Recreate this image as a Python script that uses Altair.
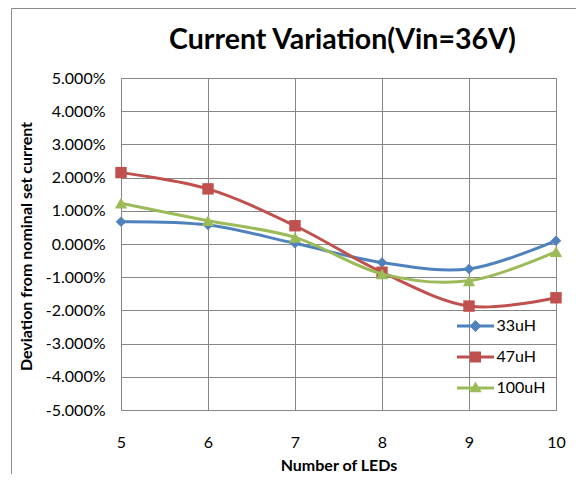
import altair as alt
import pandas as pd

# ---- data ----
leds = [5, 6, 7, 8, 9, 10]
series = ["33uH", "47uH", "100uH"]
dev_33 = [0.67, 0.57, 0.02, -0.56, -0.75, 0.10]
dev_47 = [2.15, 1.66, 0.55, -0.85, -1.87, -1.62]
dev_100 = [1.23, 0.70, 0.20, -0.90, -1.11, -0.23]
devs = [dev_33, dev_47, dev_100]
colors = ["#4F81BD", "#C0504D", "#9BBB59"]
shapes = ["diamond", "square", "triangle-up"]
sizes = [110, 130, 150]
y_ticks = list(range(-5, 6))
x_ticks = leds
TITLE = "Current Variation(Vin=36V)"
X_TITLE = "Number of LEDs"
Y_TITLE = "Deviation from nominal set current"

FONT = "Lato"
GRID = "#868686"

# legend symbols: line + marker, in unit space
bar = "M-1.85,-0.15H1.85V0.15H-1.85Z"
legend_paths = [
    bar + "M0,-0.6L0.6,0L0,0.6L-0.6,0Z",
    bar + "M-0.55,-0.55H0.55V0.55H-0.55Z",
    bar + "M0,-0.65L0.62,0.42H-0.62Z",
]

xscale = alt.Scale(domain=[5, 10], nice=False, zero=False)
yscale = alt.Scale(domain=[-5, 5], nice=False, zero=False)

xaxis = alt.Axis(
    values=x_ticks, grid=True, gridColor=GRID, gridOpacity=1, domain=False,
    ticks=False, tickSize=0, labelPadding=24, labelFontSize=16, labelFont=FONT,
    labelColor="black", title=X_TITLE, titleFont=FONT, titleFontSize=16,
    titleFontWeight="bold", titleColor="black", titleBaseline="alphabetic",
    titleY=60, labelFlush=False,
)
yaxis = alt.Axis(
    values=y_ticks, grid=True, gridColor=GRID, gridOpacity=1, domain=False,
    ticks=False, tickSize=0, labelPadding=16, labelFontSize=16, labelFont=FONT,
    labelColor="black",
    labelExpr="replace(format(datum.value, '.3f'), '\u2212', '-') + '%'",
    title=Y_TITLE, titleFont=FONT, titleFontSize=16, titleFontWeight="bold",
    titleColor="black", titleX=-95, titleY=168, titleBaseline="middle",
    titleAngle=270, titleAlign="center",
)

layers = []
for name, vals, col, shp, sz in zip(series, devs, colors, shapes, sizes):
    df = pd.DataFrame({"leds": leds, "dev": vals})
    base = alt.Chart(df).encode(
        x=alt.X("leds:Q", scale=xscale, axis=xaxis),
        y=alt.Y("dev:Q", scale=yscale, axis=yaxis),
    )
    layers.append(base.mark_line(color=col, strokeWidth=3, interpolate="cardinal"))
    layers.append(base.mark_point(shape=shp, size=sz, filled=True, color=col, opacity=1))

leg = dict(
    orient="none", legendX=344.5, legendY=238, padding=0,
    symbolSize=400, symbolStrokeWidth=0, symbolOpacity=1,
    labelFont=FONT, labelFontSize=16, labelColor="black",
    labelOffset=11, rowPadding=13, title=None,
)
legend_layer = (
    alt.Chart(alt.Data(values=[{"series": s} for s in series]))
    .transform_filter("false")
    .mark_point(filled=True, opacity=1)
    .encode(
        color=alt.Color("series:N", scale=alt.Scale(domain=series, range=colors),
                        legend=alt.Legend(**leg)),
        shape=alt.Shape("series:N", scale=alt.Scale(domain=series, range=legend_paths),
                        legend=alt.Legend(**leg)),
    )
)

title_layer = (
    alt.Chart(alt.Data(values=[{"t": TITLE}]))
    .mark_text(font=FONT, fontSize=28.5, fontWeight="bold", align="center",
               baseline="alphabetic", color="black")
    .encode(text="t:N", x=alt.value(221.5), y=alt.value(-29))
)

frame_top = (
    alt.Chart(alt.Data(values=[{"a": 1}]))
    .mark_rule(color="#8c8c8c", strokeWidth=1)
    .encode(x=alt.value(-109.5), x2=alt.value(600), y=alt.value(-69.5))
)
frame_left = (
    alt.Chart(alt.Data(values=[{"a": 1}]))
    .mark_rule(color="#8c8c8c", strokeWidth=1)
    .encode(x=alt.value(-109.5), y=alt.value(-69.5), y2=alt.value(600))
)

chart = (
    alt.layer(frame_top, frame_left, *layers, legend_layer, title_layer)
    .properties(
        width=435, height=332,
        autosize=alt.AutoSizeParams(type="none"),
        padding={"left": 113, "top": 70, "right": 20, "bottom": 64},
        background="white",
    )
    .configure_view(stroke=GRID, strokeWidth=1)
)

chart.save("out.html", embed_options={"renderer": "svg", "actions": False})
